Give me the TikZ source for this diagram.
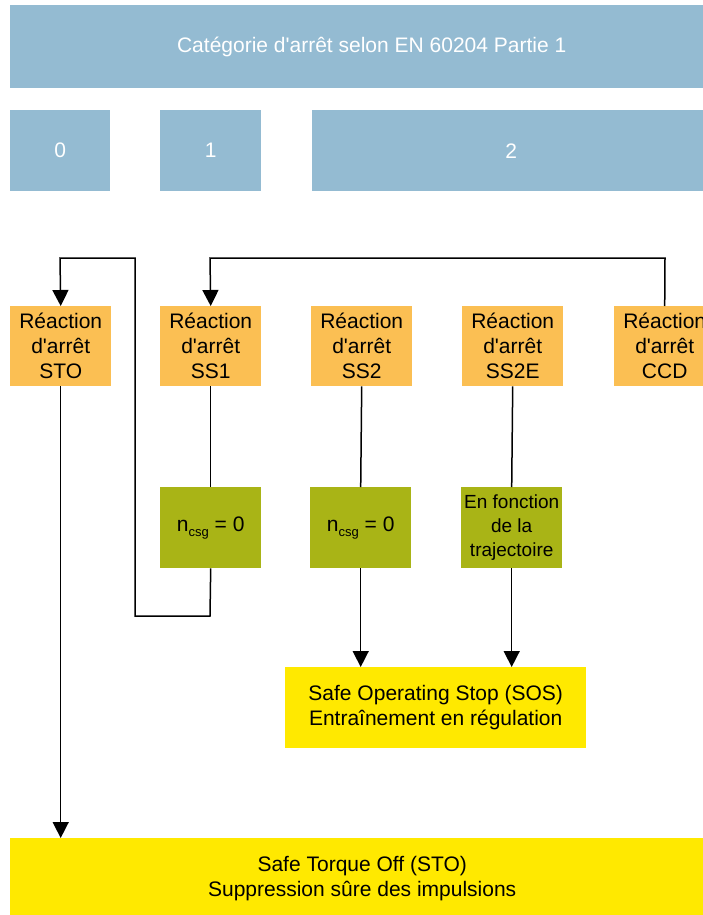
\documentclass[tikz,border=0pt]{standalone}
\usepackage{fontspec}
\setmainfont{Liberation Sans}
\usetikzlibrary{arrows.meta}
\definecolor{catblue}{RGB}{148,187,210}
\definecolor{reacorange}{RGB}{251,191,83}
\definecolor{condgreen}{RGB}{169,180,22}
\definecolor{stateyellow}{RGB}{255,233,0}
\tikzset{
  box/.style={rectangle, inner sep=0pt, align=center, anchor=north west,
    font=\fontsize{21}{25}\selectfont},
  catbox/.style={box, fill=catblue, text=white},
  reacbox/.style={box, fill=reacorange, minimum width=101pt, minimum height=80pt},
  condbox/.style={box, fill=condgreen, minimum width=101pt, minimum height=81pt},
  statebox/.style={box, fill=stateyellow},
  link/.style={line width=1.5pt},
  arr/.style={link, -{Triangle[width=16pt,length=16pt]}}
}
\newcommand{\nsub}{n\raisebox{-5pt}{\fontsize{13}{13}\selectfont csg}}
\newcommand{\darret}{d\textquotesingle arrêt}
\begin{document}
\begin{tikzpicture}[x=1pt,y=-1pt]
\useasboundingbox (0,0) rectangle (702,915);
% stop categories
\node[catbox, minimum width=723pt, minimum height=83pt] (cat) at (10,5) {Catégorie \darret{} selon EN 60204 Partie 1};
\node[catbox, minimum width=100pt, minimum height=81pt] (c0) at (10,110) {0};
\node[catbox, minimum width=101pt, minimum height=81pt] (c1) at (160,110) {1};
\node[catbox, minimum width=398pt, minimum height=81pt] (c2) at (312,110) {2};
% stop reactions
\node[reacbox] (sto) at (10,306) {Réaction\\\darret\\STO};
\node[reacbox] (ss1) at (160,306) {Réaction\\\darret\\SS1};
\node[reacbox] (ss2) at (311,306) {Réaction\\\darret\\SS2};
\node[reacbox] (ss2e) at (462,306) {Réaction\\\darret\\SS2E};
\node[reacbox] (ccd) at (614,306) {Réaction\\\darret\\CCD};
% conditions
\node[condbox] (g1) at (160,487) {\nsub{} = 0};
\node[condbox] (g2) at (310,487) {\nsub{} = 0};
\node[condbox, font=\fontsize{19}{24}\selectfont] (g3) at (461,487) {En fonction\\de la\\trajectoire};
% resulting states
\node[statebox, minimum width=301pt, minimum height=81pt] (sos) at (285,667) {Safe Operating Stop (SOS)\\Entraînement en régulation};
\node[statebox, minimum width=704pt, minimum height=80pt] (stob) at (10,838) {Safe Torque Off (STO)\\Suppression sûre des impulsions};
% routing points
\coordinate (ss1low) at (210,616);
\coordinate (loopl) at (135,616);
\coordinate (loopt) at (135,258);
\coordinate (stotop) at (60,258);
\coordinate (ccdtop) at (665,258);
\coordinate (ss1top) at (210,258);
% connectors
\draw[arr] (sto.south) -- (sto.south |- stob.north);
\draw[link] (ss1.south) -- (g1.north);
\draw[arr] (g1.south) -- (ss1low) -- (loopl) -- (loopt) -- (stotop) -- (sto.north);
\draw[arr] (ccd.north) -- (ccdtop) -- (ss1top) -- (ss1.north);
\draw[link] (ss2.south) -- (g2.north);
\draw[arr] (g2.south) -- (g2.south |- sos.north);
\draw[link] (ss2e.south) -- (g3.north);
\draw[arr] (g3.south) -- (g3.south |- sos.north);
\end{tikzpicture}
\end{document}
